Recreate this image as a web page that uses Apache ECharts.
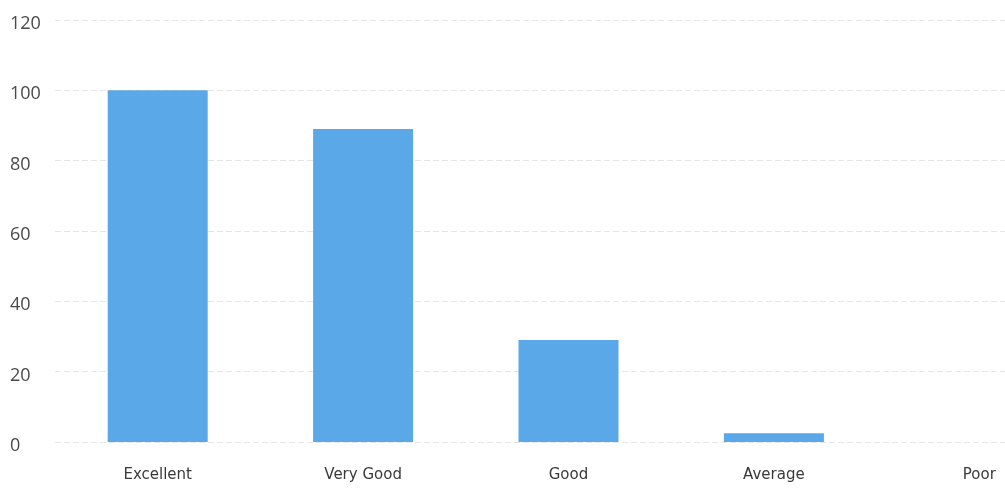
<!DOCTYPE html>
<html>
<head>
<meta charset="utf-8">
<script src="https://cdn.jsdelivr.net/npm/echarts@6/dist/echarts.min.js"></script>
<style>html,body{margin:0;padding:0;background:#fff;overflow:hidden;width:1005px;height:491px;}#c{width:1082px;height:491px;}</style>
</head>
<body>
<div id="c"></div>
<script>
const categories = ['Excellent', 'Very Good', 'Good', 'Average', 'Poor'];
const values = [100, 89, 29, 2.5, 0];
const yMin = 0, yMax = 120, yStep = 20;

const chart = echarts.init(document.getElementById('c'), null, {renderer: 'canvas'});
chart.setOption({
  animation: false,
  backgroundColor: '#ffffff',
  grid: {left: 55, right: 0, top: 20, bottom: 49, containLabel: false},
  xAxis: {
    type: 'category',
    data: categories,
    axisLine: {show: false},
    axisTick: {show: false},
    axisLabel: {color: '#3a3a3a', fontFamily: '"DejaVu Sans", sans-serif', fontSize: 15, margin: 26}
  },
  yAxis: {
    type: 'value',
    min: yMin, max: yMax, interval: yStep,
    axisLine: {show: false},
    axisTick: {show: false},
    axisLabel: {color: '#4a4a4a', fontFamily: '"Open Sans", sans-serif', fontSize: 18, align: 'left', margin: 45, verticalAlign: 'top', lineHeight: 8},
    splitLine: {lineStyle: {color: '#e6e6e6', width: 1, type: [6, 3]}}
  },
  series: [{
    type: 'bar',
    data: values,
    barWidth: 100,
    itemStyle: {color: '#5aa8e8'}
  }]
});
</script>
</body>
</html>
